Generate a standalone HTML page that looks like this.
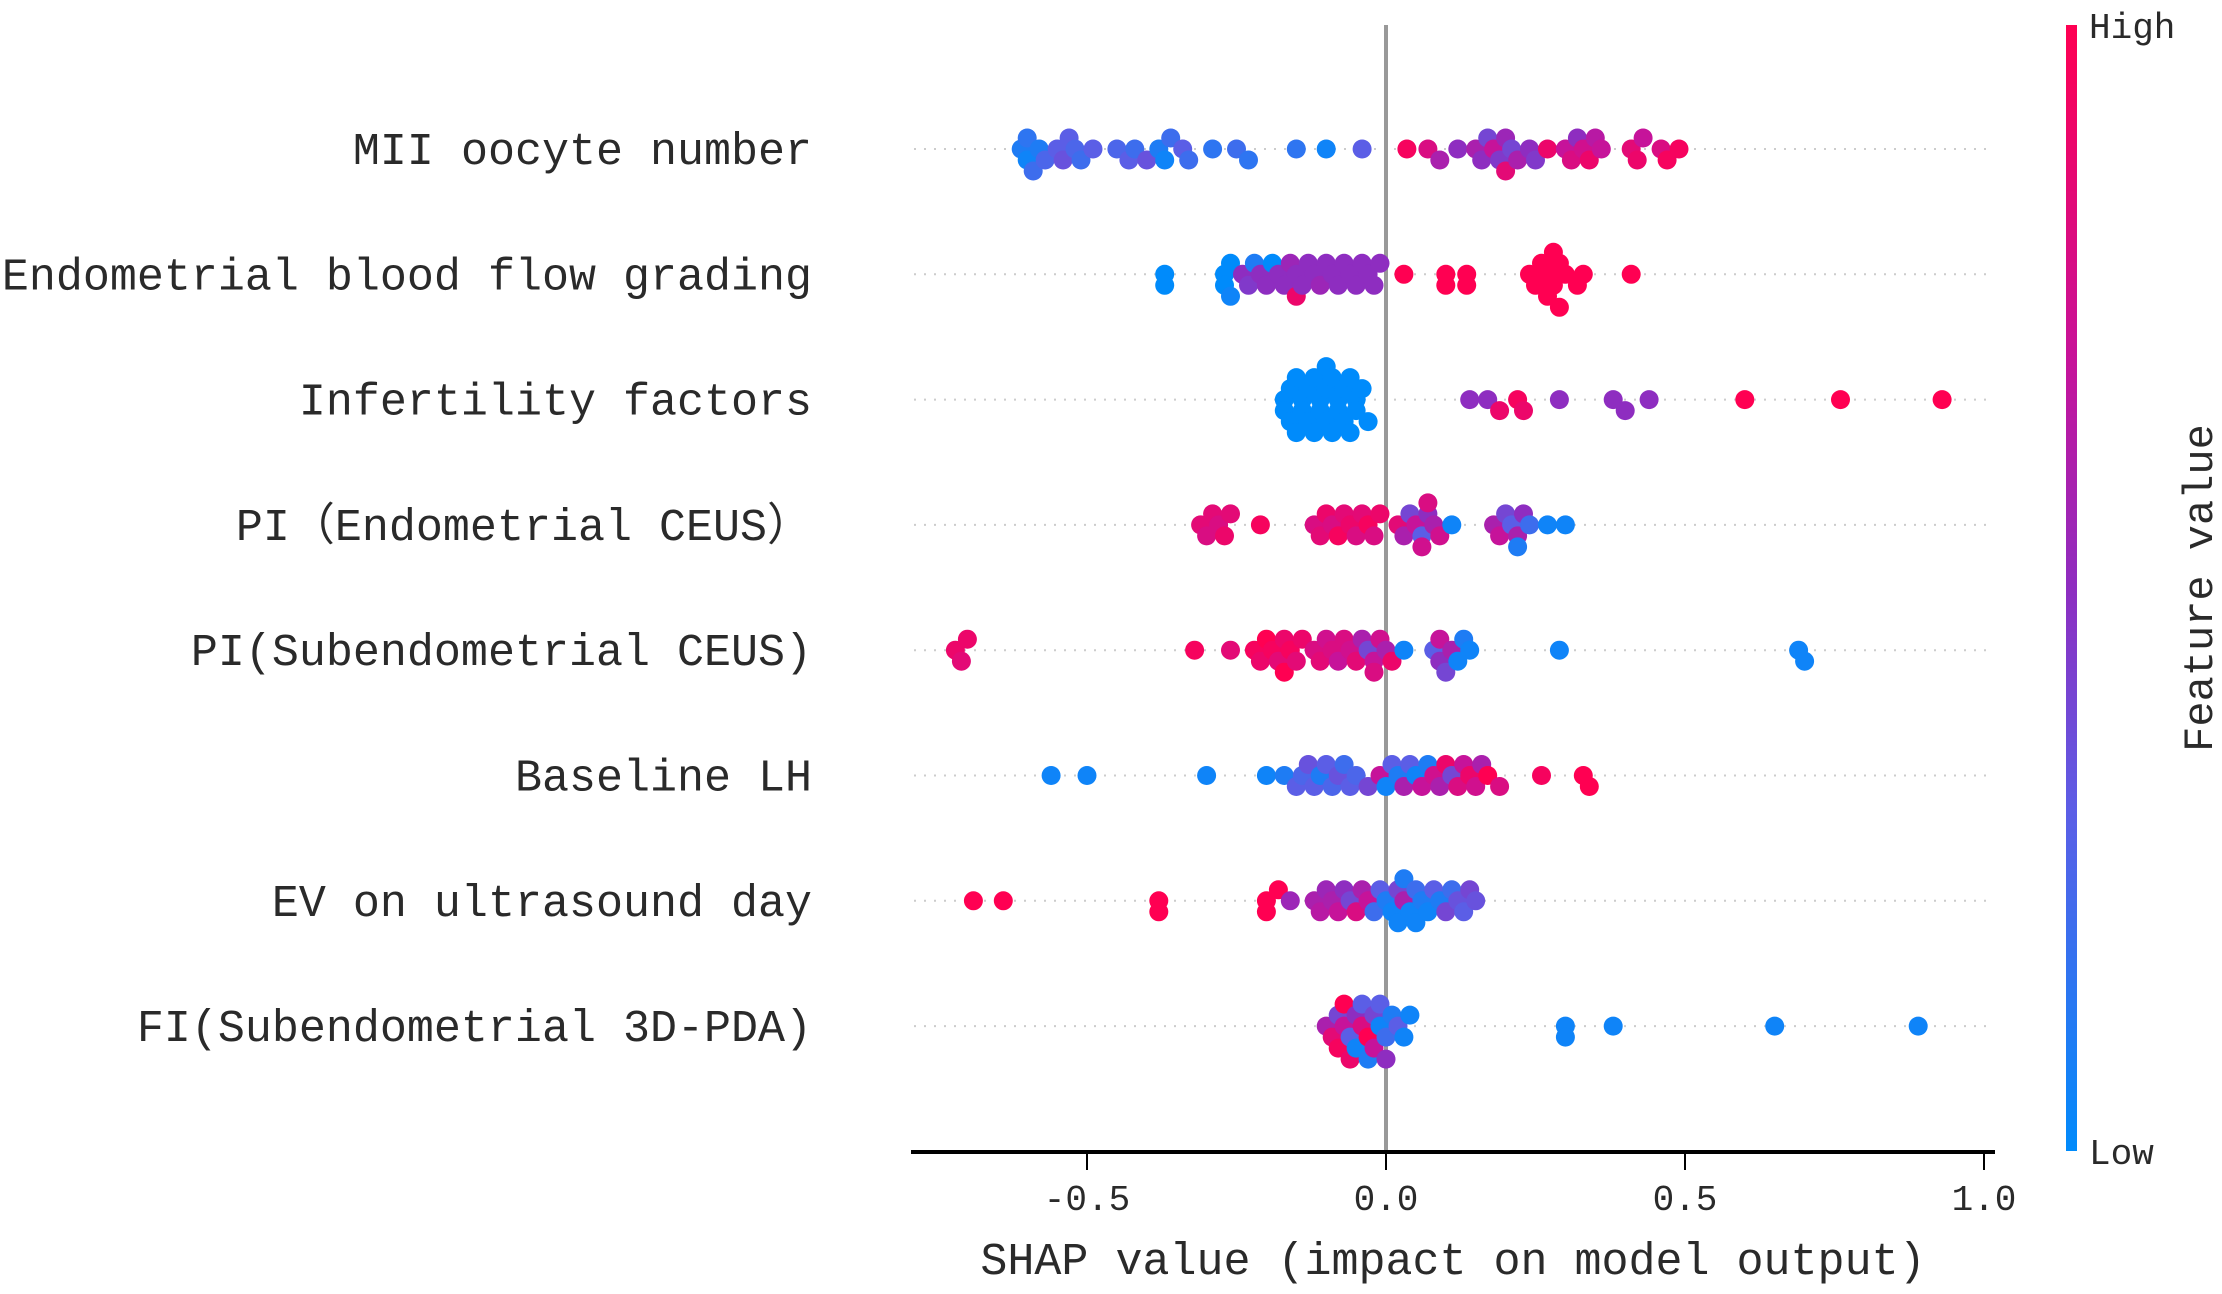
<!DOCTYPE html>
<html><head><meta charset="utf-8"><style>
html,body{margin:0;padding:0;background:#fff}
svg{display:block}
text{font-family:"Liberation Mono","Noto Sans CJK SC",monospace;fill:#2a2a2a}
</style></head><body>
<svg id="chart" width="2222" height="1294" viewBox="0 0 2222 1294" xmlns="http://www.w3.org/2000/svg">
<defs>
<linearGradient id="cbar" x1="0" y1="1" x2="0" y2="0">
<stop offset="0" stop-color="#008bfb"/><stop offset="0.3" stop-color="#5b5ee6"/><stop offset="0.5" stop-color="#8e2dc0"/><stop offset="0.7" stop-color="#c6139a"/><stop offset="1" stop-color="#ff0052"/>
</linearGradient>
</defs>
<g id="grid"></g>
<line x1="1386" y1="25" x2="1386" y2="1152" stroke="#999" stroke-width="4"/>
<g id="dots"></g>
<g id="labels"></g>
<line x1="911" y1="1152" x2="1995" y2="1152" stroke="#000" stroke-width="4"/>
<g id="ticks"></g>
<text x="1453" y="1274" text-anchor="middle" font-size="45">SHAP value (impact on model output)</text>
<rect x="2066" y="25" width="11" height="1126" fill="url(#cbar)"/>
<text x="2089" y="38" font-size="36">High</text>
<text x="2089" y="1164" font-size="36">Low</text>
<text x="0" y="0" font-size="42" text-anchor="middle" transform="translate(2212,588) rotate(-90)">Feature value</text>
</svg>
<script>
const features = ["MII oocyte number","Endometrial blood flow grading","Infertility factors","PI（Endometrial CEUS）","PI(Subendometrial CEUS)","Baseline LH","EV on ultrasound day","FI(Subendometrial 3D-PDA)"];
const xTicks = [-0.5, 0.0, 0.5, 1.0];
const xTickLabels = ["-0.5","0.0","0.5","1.0"];
// each entry: [shap value, feature value 0..1]
const shapMII = [[-0.61,0.1],[-0.6,0.05],[-0.6,0.15],[-0.59,0.2],[-0.58,0.1],[-0.57,0.25],[-0.55,0.3],[-0.54,0.35],[-0.53,0.3],[-0.52,0.25],[-0.51,0.2],[-0.49,0.3],[-0.45,0.25],[-0.43,0.3],[-0.42,0.2],[-0.40,0.35],[-0.38,0.1],[-0.37,0.05],[-0.36,0.2],[-0.34,0.3],[-0.33,0.2],[-0.29,0.15],[-0.25,0.2],[-0.23,0.15],[-0.15,0.15],[-0.10,0.05],[-0.04,0.3],[0.035,0.95],[0.07,0.8],[0.09,0.6],[0.12,0.5],[0.15,0.6],[0.16,0.5],[0.17,0.4],[0.18,0.7],[0.19,0.45],[0.20,0.55],[0.20,0.85],[0.21,0.4],[0.22,0.6],[0.24,0.5],[0.25,0.45],[0.27,0.9],[0.30,0.7],[0.31,0.8],[0.32,0.5],[0.33,0.75],[0.34,0.9],[0.35,0.65],[0.36,0.7],[0.41,0.85],[0.42,0.9],[0.43,0.7],[0.46,0.8],[0.47,0.95],[0.49,0.95]];
const shapFlow = [[-0.37,0.0],[-0.37,0.0],[-0.27,0.0],[-0.27,0.0],[-0.26,0.0],[-0.26,0.05],[-0.24,0.5],[-0.23,0.45],[-0.22,0.1],[-0.21,0.5],[-0.20,0.5],[-0.19,0.0],[-0.18,0.5],[-0.17,0.5],[-0.16,0.55],[-0.15,0.5],[-0.15,0.9],[-0.14,0.5],[-0.13,0.5],[-0.12,0.5],[-0.11,0.55],[-0.10,0.5],[-0.09,0.5],[-0.08,0.5],[-0.07,0.5],[-0.06,0.5],[-0.05,0.5],[-0.04,0.5],[-0.03,0.5],[-0.02,0.5],[-0.01,0.5],[0.03,1],[0.10,1],[0.10,1],[0.135,1],[0.135,1],[0.24,1],[0.25,1],[0.26,1],[0.27,1],[0.27,1],[0.28,1],[0.28,1],[0.29,1],[0.29,1],[0.30,1],[0.32,1],[0.33,1],[0.41,1]];
const shapInfert = [[-0.17,0],[-0.17,0],[-0.16,0],[-0.16,0],[-0.15,0],[-0.15,0],[-0.14,0],[-0.14,0],[-0.13,0],[-0.13,0],[-0.12,0],[-0.12,0],[-0.11,0],[-0.11,0],[-0.10,0],[-0.10,0],[-0.10,0],[-0.09,0],[-0.09,0],[-0.08,0],[-0.08,0],[-0.07,0],[-0.07,0],[-0.06,0],[-0.06,0],[-0.05,0],[-0.05,0],[-0.04,0],[-0.03,0],[0.14,0.5],[0.17,0.5],[0.19,0.9],[0.22,0.95],[0.23,0.9],[0.29,0.5],[0.38,0.5],[0.40,0.5],[0.44,0.5],[0.60,1],[0.76,1],[0.93,1]];
const shapPIE = [[-0.31,0.85],[-0.30,0.8],[-0.29,0.85],[-0.28,0.8],[-0.27,0.9],[-0.26,0.85],[-0.21,0.95],[-0.12,0.8],[-0.11,0.85],[-0.10,0.9],[-0.09,0.8],[-0.08,0.95],[-0.07,0.85],[-0.06,0.9],[-0.05,0.8],[-0.04,0.85],[-0.03,0.95],[-0.02,0.8],[-0.01,0.9],[0.02,0.85],[0.03,0.6],[0.04,0.4],[0.05,0.7],[0.06,0.3],[0.06,0.75],[0.07,0.5],[0.07,0.8],[0.08,0.6],[0.09,0.75],[0.11,0.05],[0.18,0.6],[0.19,0.7],[0.20,0.4],[0.21,0.3],[0.22,0.6],[0.22,0.1],[0.23,0.5],[0.24,0.2],[0.27,0.05],[0.30,0.05]];
const shapPIS = [[-0.72,0.9],[-0.71,0.85],[-0.70,0.9],[-0.32,0.95],[-0.26,0.85],[-0.22,0.95],[-0.21,0.9],[-0.20,1],[-0.19,0.95],[-0.18,0.85],[-0.17,0.9],[-0.17,1],[-0.16,0.95],[-0.15,0.85],[-0.14,0.9],[-0.12,0.8],[-0.11,0.85],[-0.10,0.75],[-0.09,0.8],[-0.08,0.7],[-0.07,0.8],[-0.06,0.75],[-0.05,0.85],[-0.04,0.6],[-0.03,0.4],[-0.02,0.7],[-0.02,0.8],[-0.01,0.75],[0.0,0.6],[0.01,0.9],[0.03,0.05],[0.08,0.3],[0.09,0.5],[0.09,0.7],[0.10,0.4],[0.11,0.6],[0.12,0.05],[0.13,0.1],[0.14,0.05],[0.29,0.05],[0.69,0.05],[0.70,0.05]];
const shapLH = [[-0.56,0.05],[-0.50,0.05],[-0.30,0.05],[-0.20,0.05],[-0.17,0.1],[-0.15,0.3],[-0.14,0.25],[-0.13,0.35],[-0.12,0.3],[-0.11,0.1],[-0.10,0.3],[-0.09,0.25],[-0.08,0.35],[-0.07,0.2],[-0.06,0.3],[-0.05,0.25],[-0.03,0.4],[-0.01,0.7],[0.0,0.05],[0.01,0.3],[0.02,0.1],[0.03,0.6],[0.04,0.3],[0.05,0.05],[0.06,0.7],[0.07,0.1],[0.08,0.75],[0.09,0.6],[0.10,0.9],[0.11,0.4],[0.12,0.8],[0.13,0.7],[0.14,0.9],[0.15,0.75],[0.16,0.6],[0.17,1],[0.19,0.8],[0.26,0.95],[0.33,1],[0.34,1]];
const shapEV = [[-0.69,1],[-0.64,1],[-0.38,1],[-0.38,1],[-0.20,1],[-0.20,1],[-0.18,1],[-0.16,0.55],[-0.12,0.6],[-0.11,0.65],[-0.10,0.55],[-0.09,0.6],[-0.08,0.7],[-0.07,0.5],[-0.06,0.4],[-0.05,0.8],[-0.04,0.6],[-0.03,0.7],[-0.02,0.2],[-0.01,0.3],[0.0,0.1],[0.01,0.05],[0.02,0.4],[0.02,0.05],[0.03,0.6],[0.03,0.1],[0.04,0.05],[0.05,0.2],[0.05,0.05],[0.06,0.1],[0.07,0.05],[0.08,0.3],[0.09,0.1],[0.10,0.4],[0.11,0.2],[0.12,0.35],[0.13,0.3],[0.14,0.4],[0.15,0.35]];
const shapFI = [[-0.10,0.6],[-0.09,0.85],[-0.08,0.4],[-0.08,0.95],[-0.07,0.7],[-0.07,1],[-0.06,0.3],[-0.06,0.9],[-0.05,0.5],[-0.05,0.05],[-0.04,0.8],[-0.04,0.3],[-0.03,1],[-0.03,0.1],[-0.02,0.4],[-0.02,0.7],[-0.01,0.05],[-0.01,0.3],[0.0,0.2],[0.0,0.5],[0.01,0.1],[0.02,0.3],[0.03,0.05],[0.04,0.05],[0.30,0.05],[0.30,0.05],[0.38,0.05],[0.65,0.05],[0.89,0.05]];
const rows = [shapMII,shapFlow,shapInfert,shapPIE,shapPIS,shapLH,shapEV,shapFI];

const NS="http://www.w3.org/2000/svg";
const xScale = v => 1386 + v*598;
const yRow = i => 149 + i*125.3;
const stops=[[0,[0,139,251]],[0.3,[91,94,230]],[0.5,[142,45,192]],[0.7,[198,19,154]],[1,[255,0,82]]];
function color(t){for(let k=1;k<stops.length;k++){if(t<=stops[k][0]){const a=stops[k-1],b=stops[k];const u=(t-a[0])/(b[0]-a[0]);const c=a[1].map((x,j)=>Math.round(x+(b[1][j]-x)*u));return `rgb(${c})`;}}return "rgb(255,0,82)";}

const grid=document.getElementById('grid'),dots=document.getElementById('dots'),labels=document.getElementById('labels'),ticks=document.getElementById('ticks');
features.forEach((f,i)=>{
  const y=yRow(i);
  const ln=document.createElementNS(NS,'line');
  
  
  ln.setAttribute('x1',914);ln.setAttribute('x2',1991);ln.setAttribute('y1',y);ln.setAttribute('y2',y);
  ln.setAttribute('stroke','#ccc');ln.setAttribute('stroke-width','2');ln.setAttribute('stroke-dasharray','2 8');
  grid.appendChild(ln);
  const t=document.createElementNS(NS,'text');
  
  
  t.setAttribute('x',812);t.setAttribute('y',y+15);t.setAttribute('text-anchor','end');t.setAttribute('font-size','45');
  t.textContent=f;labels.appendChild(t);
  const pts=rows[i].map(p=>({x:xScale(p[0]),f:p[1]})).sort((a,b)=>a.x-b.x);
  const placed=[];
  pts.forEach(p=>{
    let off=0;
    for(let k=0;k<20;k++){
      const cand = k===0?0:(k%2?1:-1)*Math.ceil(k/2)*11;
      if(!placed.some(q=>Math.abs(q.x-p.x)<16 && Math.abs(q.o-cand)<11)){off=cand;break;}
    }
    p.o=off;placed.push(p);
  });
  pts.forEach(p=>{
    const c=document.createElementNS(NS,'circle');
    
    
    c.setAttribute('cx',p.x.toFixed(1));c.setAttribute('cy',(y+p.o).toFixed(1));c.setAttribute('r','9.5');
    c.setAttribute('fill',color(p.f));
    dots.appendChild(c);
  });
});
xTicks.forEach((v,i)=>{
  const x=xScale(v);
  const l=document.createElementNS(NS,'line');
  
  
  l.setAttribute('x1',x);l.setAttribute('x2',x);l.setAttribute('y1',1152);l.setAttribute('y2',1170);
  l.setAttribute('stroke','#000');l.setAttribute('stroke-width','2');
  ticks.appendChild(l);
  const t=document.createElementNS(NS,'text');
  
  
  t.setAttribute('x',x);t.setAttribute('y',1210);t.setAttribute('text-anchor','middle');t.setAttribute('font-size','36');
  t.textContent=xTickLabels[i];ticks.appendChild(t);
});
</script>
</body></html>
